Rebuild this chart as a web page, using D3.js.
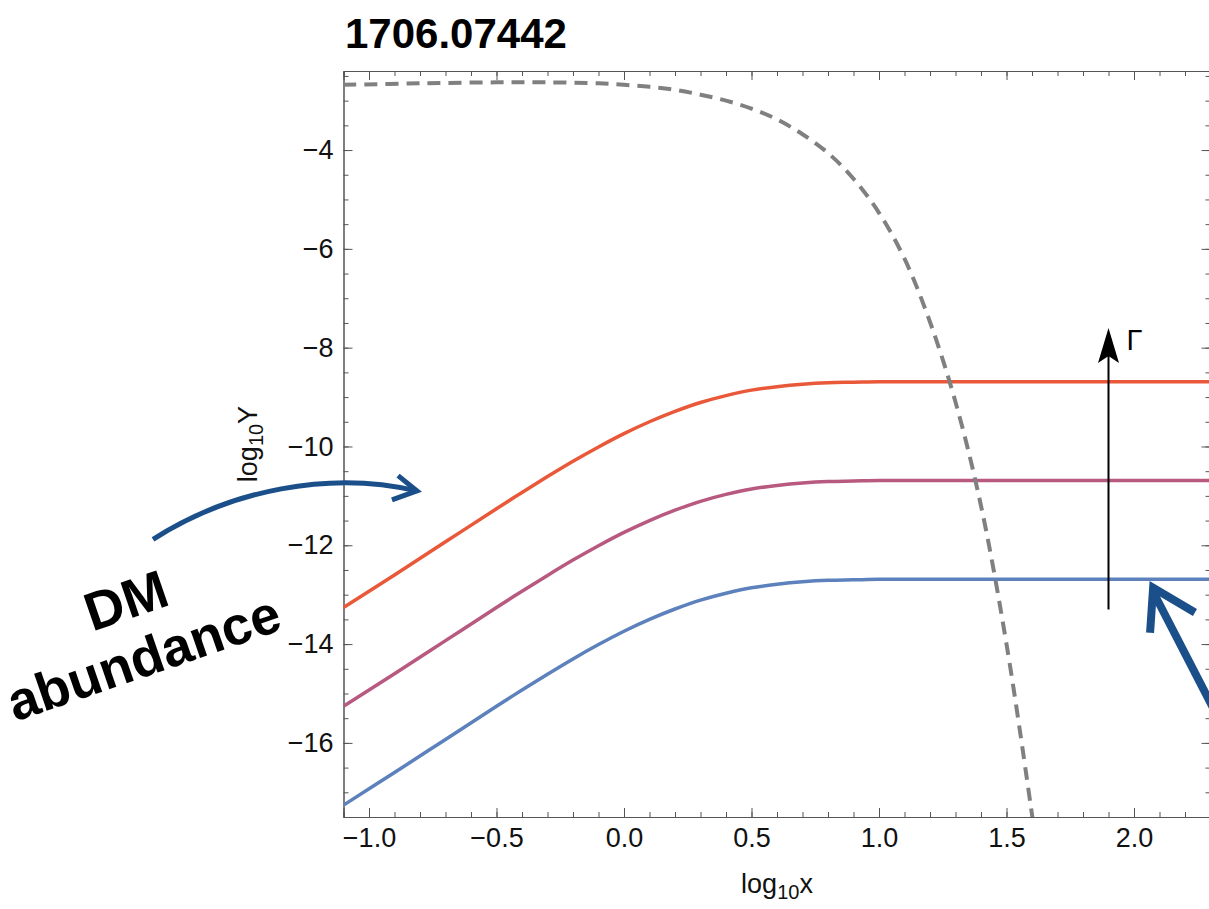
<!DOCTYPE html>
<html>
<head>
<meta charset="utf-8">
<script src="https://cdn.jsdelivr.net/npm/d3@7"></script>
<style>
  body { margin: 0; background: #fff; }
  svg text { font-family: "Liberation Sans", Arial, Helvetica, sans-serif; }
</style>
</head>
<body>
<div id="chart"></div>
<script>
const width = 1209;
const height = 909;

// curve samples (log10 x, log10 Y)
const xs = [-1.1, -0.9, -0.7, -0.5, -0.4, -0.3, -0.2, -0.1, 0.0, 0.1, 0.2, 0.3, 0.4, 0.5, 0.6, 0.7, 0.8, 0.9, 1.0, 1.1, 2.3];
const redY = [-13.26, -12.60, -11.93, -11.26, -10.93, -10.61, -10.30, -10.01, -9.74, -9.50, -9.29, -9.11, -8.97, -8.86, -8.79, -8.74, -8.71, -8.70, -8.69, -8.69, -8.69];
const purpleY = [-15.26, -14.60, -13.93, -13.26, -12.93, -12.61, -12.30, -12.01, -11.74, -11.50, -11.29, -11.11, -10.97, -10.86, -10.79, -10.74, -10.71, -10.70, -10.69, -10.69, -10.69];
const blueY = [-17.26, -16.60, -15.93, -15.26, -14.93, -14.61, -14.30, -14.01, -13.74, -13.50, -13.29, -13.11, -12.97, -12.86, -12.79, -12.74, -12.71, -12.70, -12.69, -12.69, -12.69];

// equilibrium (dashed) curve
const eqX = [-1.1, -0.8, -0.5, -0.3, -0.1, 0.0, 0.1, 0.2, 0.3, 0.4, 0.5, 0.6, 0.7, 0.8, 0.9, 1.0, 1.1, 1.2, 1.3, 1.4, 1.5, 1.6, 1.62];
const eqY = [-2.68, -2.65, -2.63, -2.63, -2.65, -2.68, -2.72, -2.78, -2.88, -3.00, -3.16, -3.38, -3.68, -4.06, -4.58, -5.27, -6.20, -7.48, -9.10, -11.20, -14.00, -17.45, -18.20];

const xMajor = [-1.0, -0.5, 0.0, 0.5, 1.0, 1.5, 2.0];
const yMajor = [-16, -14, -12, -10, -8, -6, -4];

const series = [
  { y: redY, color: '#EA583A' },
  { y: purpleY, color: '#B85A80' },
  { y: blueY, color: '#5C81BC' },
];

const x = d3.scaleLinear().domain([-1.1, 2.3]).range([343.5, 1210.5]);
const y = d3.scaleLinear().domain([-17.5, -2.4]).range([817, 71]);

const svg = d3.select('#chart').append('svg')
  .attr('width', width).attr('height', height);

svg.append('clipPath').attr('id', 'plot-clip')
  .append('rect')
  .attr('x', x(-1.1)).attr('y', y(-2.4))
  .attr('width', x(2.3) - x(-1.1)).attr('height', y(-17.5) - y(-2.4));

// frame + ticks on all four sides, pointing inward
const frameColor = '#555';
const xMinor = d3.range(-11, 24).map((d) => d / 10);
const yMinor = d3.range(-35, -4).map((d) => d / 2);

function tickAxis(axisFn, scale, values, size, translate, labels) {
  const g = svg.append('g')
    .attr('transform', translate)
    .call(axisFn(scale).tickValues(values).tickSize(-size).tickPadding(10)
      .tickFormat(labels ? (d) => d3.format('.1f')(d).replace('-', '\u2212') : ''));
  g.select('.domain').attr('stroke', frameColor);
  g.selectAll('.tick line').attr('stroke', frameColor);
  return g;
}

const bottomY = y(-17.5);
const topY = y(-2.4);
const leftX = x(-1.1);
const rightX = x(2.3);

tickAxis(d3.axisBottom, x, xMinor, 5, `translate(0,${bottomY})`, false);
const xAx = tickAxis(d3.axisBottom, x, xMajor, 9, `translate(0,${bottomY})`, true);
xAx.selectAll('.tick text').attr('font-size', 27).attr('fill', '#111').attr('dy', '0.75em');
tickAxis(d3.axisTop, x, xMinor, 5, `translate(0,${topY})`, false);
tickAxis(d3.axisTop, x, xMajor, 9, `translate(0,${topY})`, false);

tickAxis(d3.axisLeft, y, yMinor, 5, `translate(${leftX},0)`, false);
const yAx = svg.append('g')
  .attr('transform', `translate(${leftX},0)`)
  .call(d3.axisLeft(y).tickValues(yMajor).tickSize(-9).tickPadding(10)
    .tickFormat((d) => String(d).replace('-', '\u2212')));
yAx.select('.domain').attr('stroke', frameColor);
yAx.selectAll('.tick line').attr('stroke', frameColor);
yAx.selectAll('.tick text').attr('font-size', 27).attr('fill', '#111');
tickAxis(d3.axisRight, y, yMinor, 5, `translate(${rightX},0)`, false);
tickAxis(d3.axisRight, y, yMajor, 9, `translate(${rightX},0)`, false);

// curves
const plot = svg.append('g').attr('clip-path', 'url(#plot-clip)');

const line = d3.line()
  .x((d) => x(d[0]))
  .y((d) => y(d[1]))
  .curve(d3.curveCatmullRom);

series.forEach((s) => {
  plot.append('path')
    .datum(xs.map((v, i) => [v, s.y[i]]))
    .attr('d', line)
    .attr('fill', 'none')
    .attr('stroke', s.color)
    .attr('stroke-width', 3.5);
});

plot.append('path')
  .datum(eqX.map((v, i) => [v, eqY[i]]))
  .attr('d', line)
  .attr('fill', 'none')
  .attr('stroke', '#808080')
  .attr('stroke-width', 4)
  .attr('stroke-dasharray', '13,8');

// Gamma arrow
const gx = x(1.9);
svg.append('line')
  .attr('x1', gx).attr('x2', gx)
  .attr('y1', y(-13.3)).attr('y2', y(-7.6) + 20)
  .attr('stroke', '#000').attr('stroke-width', 2);
const tipY = y(-7.6);
svg.append('path')
  .attr('d', `M${gx},${tipY} L${gx + 10.5},${tipY + 35} L${gx},${tipY + 28} L${gx - 10.5},${tipY + 35} Z`)
  .attr('fill', '#000');
svg.append('text')
  .attr('x', gx + 18).attr('y', tipY + 22)
  .attr('font-size', 29)
  .text('\u0393');

// title
svg.append('text')
  .attr('x', 345).attr('y', 48)
  .attr('font-size', 42)
  .attr('font-weight', 'bold')
  .text('1706.07442');

// axis labels
const xLab = svg.append('text')
  .attr('x', (leftX + rightX) / 2).attr('y', 893)
  .attr('text-anchor', 'middle')
  .attr('font-size', 27)
  .attr('fill', '#111');
xLab.append('tspan').text('log');
xLab.append('tspan').attr('font-size', 20).attr('dy', 6).text('10');
xLab.append('tspan').attr('dy', -6).text('x');

const yLab = svg.append('text')
  .attr('transform', `translate(257,${(topY + bottomY) / 2}) rotate(-90)`)
  .attr('text-anchor', 'middle')
  .attr('font-size', 27)
  .attr('fill', '#111');
yLab.append('tspan').text('log');
yLab.append('tspan').attr('font-size', 20).attr('dy', 6).text('10');
yLab.append('tspan').attr('dy', -6).text('Y');

// "DM abundance" annotation
const annBlue = '#1B4F89';
const arcStart = [-1.847, -11.88];
const arcC1 = [-1.545, -10.88];
const arcC2 = [-1.153, -10.48];
const arcEnd = [-0.812, -10.90];
const arc = d3.path();
arc.moveTo(x(arcStart[0]), y(arcStart[1]));
arc.bezierCurveTo(x(arcC1[0]), y(arcC1[1]), x(arcC2[0]), y(arcC2[1]), x(arcEnd[0]), y(arcEnd[1]));
svg.append('path')
  .attr('d', arc.toString())
  .attr('fill', 'none')
  .attr('stroke', annBlue)
  .attr('stroke-width', 5);
const arcHead = [[-0.886, -10.59], [-0.812, -10.90], [-0.910, -11.08]];
svg.append('path')
  .datum(arcHead)
  .attr('d', d3.line().x((d) => x(d[0])).y((d) => y(d[1])))
  .attr('fill', 'none')
  .attr('stroke', annBlue)
  .attr('stroke-width', 5)
  .attr('stroke-linejoin', 'miter');

const dm = svg.append('g')
  .attr('transform', 'translate(132,618) rotate(-19)');
dm.append('text').attr('text-anchor', 'middle')
  .attr('font-size', 54).attr('font-weight', 'bold').text('DM');
dm.append('text').attr('text-anchor', 'middle').attr('x', -2).attr('y', 60)
  .attr('font-size', 54).attr('font-weight', 'bold').text('abundance');

// big arrow pointing at the lowest plateau
const bigHead = [[2.063, -13.77], [2.075, -12.86], [2.239, -13.36]];
svg.append('line')
  .attr('x1', x(2.075)).attr('y1', y(-12.86) + 4)
  .attr('x2', x(2.435)).attr('y2', y(-16.54))
  .attr('stroke', annBlue).attr('stroke-width', 8);
svg.append('path')
  .datum(bigHead)
  .attr('d', d3.line().x((d) => x(d[0])).y((d) => y(d[1])))
  .attr('fill', 'none')
  .attr('stroke', annBlue)
  .attr('stroke-width', 8)
  .attr('stroke-linejoin', 'miter');
</script>
</body>
</html>
